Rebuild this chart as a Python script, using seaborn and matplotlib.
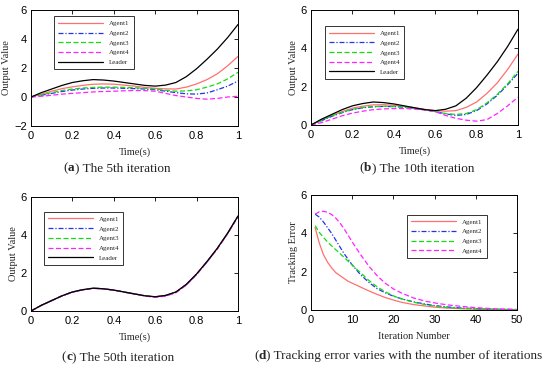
import numpy as np
import pandas as pd
import matplotlib
matplotlib.use("Agg")
import matplotlib.pyplot as plt
import seaborn as sns
from matplotlib.offsetbox import TextArea, HPacker, AnchoredOffsetbox

sns.set_theme(style="white")
plt.rcParams['font.family'] = ['Liberation Sans', 'DejaVu Sans']

# ---------------- data ----------------
t = [0.0, 0.05, 0.1, 0.15, 0.2, 0.25, 0.3, 0.35, 0.4, 0.45, 0.5,
     0.55, 0.6, 0.65, 0.7, 0.75, 0.8, 0.85, 0.9, 0.95, 1.0]

leader = [0.0, 0.3, 0.55, 0.8, 1.0, 1.12, 1.2, 1.17, 1.1, 1.0, 0.9,
          0.8, 0.75, 0.82, 1.0, 1.4, 1.95, 2.6, 3.3, 4.1, 5.0]

# 5th iteration
a5_1 = [0.0, 0.2, 0.4, 0.58, 0.7, 0.8, 0.88, 0.9, 0.88, 0.82, 0.75,
        0.66, 0.6, 0.56, 0.55, 0.68, 0.9, 1.2, 1.6, 2.15, 2.8]
a5_2 = [0.0, 0.12, 0.25, 0.38, 0.48, 0.55, 0.6, 0.62, 0.62, 0.6, 0.58,
        0.55, 0.5, 0.4, 0.3, 0.22, 0.2, 0.28, 0.5, 0.75, 1.1]
a5_3 = [0.0, 0.15, 0.3, 0.45, 0.55, 0.62, 0.66, 0.68, 0.68, 0.66, 0.64,
        0.6, 0.55, 0.46, 0.4, 0.42, 0.5, 0.68, 0.9, 1.25, 1.7]
a5_4 = [0.0, 0.05, 0.12, 0.2, 0.25, 0.3, 0.35, 0.38, 0.4, 0.43, 0.45,
        0.44, 0.4, 0.25, 0.1, 0.0, -0.1, -0.15, -0.1, 0.0, 0.05]

# 10th iteration
a10_1 = [0.0, 0.25, 0.5, 0.7, 0.88, 0.98, 1.05, 1.06, 1.03, 0.97, 0.9,
         0.82, 0.75, 0.72, 0.75, 0.92, 1.2, 1.65, 2.2, 2.9, 3.7]
a10_2 = [0.0, 0.22, 0.45, 0.64, 0.8, 0.9, 0.95, 0.97, 0.96, 0.93, 0.87,
         0.8, 0.7, 0.58, 0.5, 0.55, 0.75, 1.1, 1.55, 2.1, 2.7]
a10_3 = [0.0, 0.24, 0.47, 0.66, 0.82, 0.91, 0.96, 0.98, 0.97, 0.93, 0.87,
         0.8, 0.7, 0.6, 0.55, 0.6, 0.8, 1.15, 1.6, 2.15, 2.8]
a10_4 = [0.0, 0.12, 0.3, 0.48, 0.62, 0.72, 0.8, 0.84, 0.86, 0.86, 0.83,
         0.78, 0.7, 0.5, 0.35, 0.25, 0.2, 0.28, 0.6, 1.0, 1.45]

# 50th iteration
a50_1 = [0.0, 0.3, 0.55, 0.8, 1.0, 1.12, 1.2, 1.17, 1.1, 1.0, 0.9,
         0.8, 0.75, 0.82, 1.0, 1.4, 1.95, 2.6, 3.3, 4.1, 5.0]
a50_2 = [0.0, 0.3, 0.55, 0.8, 1.0, 1.12, 1.2, 1.17, 1.1, 1.0, 0.9,
         0.8, 0.74, 0.81, 0.99, 1.38, 1.93, 2.58, 3.28, 4.08, 4.98]
a50_3 = [0.0, 0.3, 0.55, 0.8, 1.0, 1.12, 1.2, 1.17, 1.1, 1.0, 0.9,
         0.8, 0.74, 0.8, 0.98, 1.38, 1.93, 2.58, 3.28, 4.08, 4.98]
a50_4 = [0.0, 0.29, 0.54, 0.79, 0.99, 1.11, 1.19, 1.16, 1.09, 0.99, 0.89,
         0.79, 0.72, 0.78, 0.96, 1.36, 1.92, 2.57, 3.27, 4.07, 4.97]

# tracking error
it = [1, 2, 3, 4, 5, 6, 7, 8, 9, 10, 12, 14, 16, 18, 20, 22, 25, 28, 30,
      33, 36, 40, 45, 50]
err1 = [4.3, 3.5, 2.9, 2.5, 2.2, 1.95, 1.8, 1.65, 1.5, 1.4, 1.2, 1.0, 0.82,
        0.65, 0.52, 0.4, 0.28, 0.2, 0.15, 0.1, 0.07, 0.04, 0.02, 0.01]
err2 = [5.0, 4.85, 4.6, 4.3, 4.0, 3.65, 3.3, 2.95, 2.65, 2.35, 1.85, 1.45,
        1.12, 0.9, 0.72, 0.58, 0.42, 0.3, 0.23, 0.16, 0.11, 0.07, 0.04, 0.02]
err3 = [4.4, 4.05, 3.8, 3.55, 3.35, 3.15, 2.95, 2.75, 2.55, 2.35, 1.95, 1.55,
        1.22, 0.95, 0.74, 0.58, 0.4, 0.27, 0.2, 0.13, 0.09, 0.06, 0.03, 0.02]
err4 = [5.0, 5.12, 5.15, 5.1, 4.98, 4.8, 4.55, 4.25, 3.9, 3.55, 2.9, 2.3,
        1.8, 1.4, 1.1, 0.88, 0.62, 0.45, 0.37, 0.27, 0.2, 0.12, 0.06, 0.03]

agent_names = ["Agent1", "Agent2", "Agent3", "Agent4"]
colors = ["#ff6f6f", "#2233ee", "#11dd11", "#ff22ff"]
styles = ["-", (0, (4, 1.5, 1, 1.5)), (0, (4, 2)), (0, (4, 2))]

# ---------------- figure ----------------
W, H = 550, 368
fig = plt.figure(figsize=(W / 100, H / 100), dpi=100)


def px_axes(x0, y0, x1, y1):
    return fig.add_axes([x0 / W, 1 - y1 / H, (x1 - x0) / W, (y1 - y0) / H])


serif = ['Liberation Serif', 'DejaVu Serif']


def style_axes(ax, xlim, ylim, xticks, yticks, xlabel, ylabel, xtl=None):
    ax.set_xlim(*xlim)
    ax.set_ylim(*ylim)
    ax.set_xticks(xticks)
    ax.set_yticks(yticks)
    if xtl is not None:
        ax.set_xticklabels(xtl)
    ax.tick_params(direction="in", length=3, width=0.6, top=True, right=True,
                   labelsize=8, colors="black")
    ax.tick_params(axis="x", pad=3.5)
    ax.tick_params(axis="y", pad=3)
    for s in ax.spines.values():
        s.set_linewidth(0.7)
        s.set_color("black")
    ax.set_xlabel(xlabel, fontsize=7.5, family=serif, labelpad=5)
    ax.set_ylabel(ylabel, fontsize=7.5, family=serif, labelpad=2)


def legend(ax, loc, anchor):
    lg = ax.legend(loc=loc, bbox_to_anchor=anchor, prop={'family': serif, 'size': 5},
                   frameon=True, fancybox=False, edgecolor="black",
                   handlelength=6.5, labelspacing=0.55, borderpad=0.6)
    lg.get_frame().set_linewidth(0.7)
    return lg


def draw_iter(ax, series):
    for name, y, c, ls in zip(agent_names, series, colors, styles):
        sns.lineplot(x=t, y=y, ax=ax, color=c, linestyle=ls, linewidth=0.9,
                     label=name)
    sns.lineplot(x=t, y=leader, ax=ax, color="black", linewidth=0.9, label="Leader")


xt = [0, 0.2, 0.4, 0.6, 0.8, 1]
xtl = ["0", "0.2", "0.4", "0.6", "0.8", "1"]

# (a)
ax_a = px_axes(31, 10, 238, 126)
draw_iter(ax_a, [a5_1, a5_2, a5_3, a5_4])
style_axes(ax_a, (0, 1), (-2, 6), xt, [-2, 0, 2, 4, 6], "Time(s)", "Output Value", xtl)
legend(ax_a, "upper left", (0.095, 0.975))

# (b)
ax_b = px_axes(311, 10, 518, 125)
draw_iter(ax_b, [a10_1, a10_2, a10_3, a10_4])
style_axes(ax_b, (0, 1), (0, 6), xt, [0, 2, 4, 6], "Time(s)", "Output Value", xtl)
legend(ax_b, "upper left", (0.05, 0.89))

# (c)
ax_c = px_axes(31, 197, 238, 311)
draw_iter(ax_c, [a50_1, a50_2, a50_3, a50_4])
style_axes(ax_c, (0, 1), (0, 6), xt, [0, 2, 4, 6], "Time(s)", "Output Value", xtl)
legend(ax_c, "upper left", (0.045, 0.9))

# (d)
ax_d = px_axes(311, 195, 517, 310)
for name, y, c, ls in zip(agent_names, [err1, err2, err3, err4], colors, styles):
    sns.lineplot(x=it, y=y, ax=ax_d, color=c, linestyle=ls, linewidth=0.9, label=name)
style_axes(ax_d, (0, 50), (0, 6), [0, 10, 20, 30, 40, 50], [0, 2, 4, 6],
           "Iteration Number", "Tracking Error")
legend(ax_d, "upper left", (0.45, 0.86))

# captions
cap_font = ['Liberation Serif', 'DejaVu Serif']
for xc, y, letter, text in [(117, 168, "a", "The 5th iteration"),
                             (417, 168, "b", "The 10th iteration"),
                             (118, 357, "c", "The 50th iteration"),
                             (398, 356, "d", "Tracking error varies with the number of iterations")]:
    parts = [TextArea("(", textprops=dict(fontsize=9.5, family=cap_font)),
             TextArea(letter, textprops=dict(fontsize=9.5, family=cap_font, weight="bold")),
             TextArea(") " + text, textprops=dict(fontsize=9.5, family=cap_font))]
    box = HPacker(children=parts, align="baseline", pad=0, sep=0)
    ab = AnchoredOffsetbox(loc="center", child=box, frameon=False,
                           bbox_to_anchor=(xc / W, 1 - y / H),
                           bbox_transform=fig.transFigure, pad=0, borderpad=0)
    fig.add_artist(ab)

fig.savefig("out.png", dpi=100)
